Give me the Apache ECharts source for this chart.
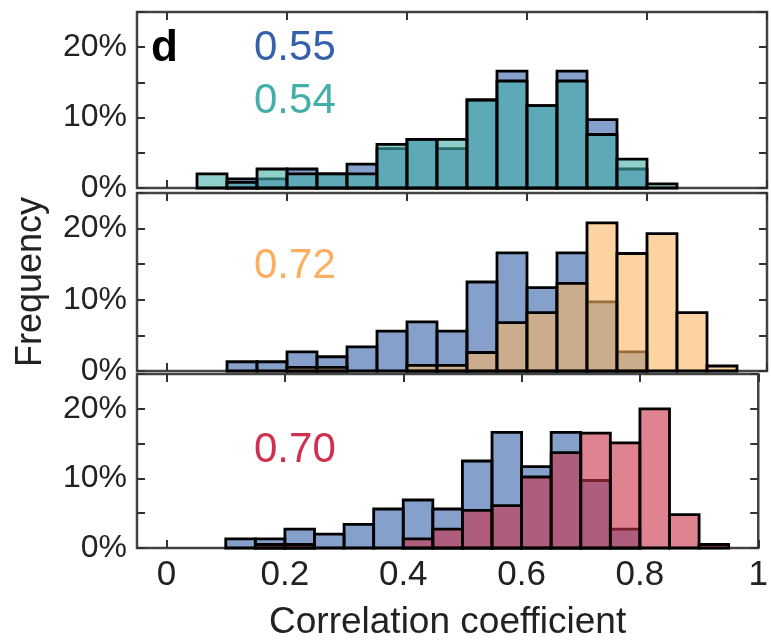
<!DOCTYPE html>
<html>
<head>
<meta charset="utf-8">
<script src="https://cdn.jsdelivr.net/npm/echarts@6/dist/echarts.min.js"></script>
<style>
  html, body { margin: 0; padding: 0; background: #fff; }
  #main { width: 771px; height: 642px; }
</style>
</head>
<body>
<div id="main"></div>
<script>
// bin left edges (width 0.05)
const binStarts = [0.05, 0.10, 0.15, 0.20, 0.25, 0.30, 0.35, 0.40, 0.45, 0.50, 0.55, 0.60, 0.65, 0.70, 0.75, 0.80, 0.85, 0.90];
const binWidth = 0.05;

// frequency in %
const blueVals   = [0, 1.3, 1.3, 2.7, 2.0, 3.4, 5.6, 6.9, 5.6, 12.5, 16.6, 11.7, 16.6, 9.7, 2.7, 0, 0, 0];
const tealVals   = [2.0, 0.8, 2.7, 2.0, 2.0, 2.0, 6.2, 6.9, 6.9, 12.5, 15.2, 11.7, 15.2, 7.6, 4.1, 0.6, 0, 0];
const orangeVals = [0, 0, 0, 0.5, 0.5, 0, 0, 0.8, 0.8, 2.6, 6.8, 8.2, 12.3, 20.8, 16.5, 19.3, 8.2, 0.7];
const redVals    = [0, 0, 0.5, 0.5, 0, 0, 0, 1.3, 2.7, 5.4, 6.1, 10.2, 13.7, 16.5, 15.1, 20.0, 4.8, 0.5];

const xTicks = [0, 0.2, 0.4, 0.6, 0.8, 1];
const labels = [
  {text: '0.55', color: 'rgb(53,97,170)', y: 50},
  {text: '0.54', color: 'rgb(67,175,168)', y: 103},
  {text: '0.72', color: 'rgb(250,176,96)', y: 268},
  {text: '0.70', color: 'rgb(208,48,78)', y: 452}
];

const FONT = '"Liberation Sans", Arial, sans-serif';
const grids = [
  {left: 137, width: 630, top: 12, height: 176},
  {left: 137, width: 630, top: 193, height: 178},
  {left: 137, width: 630, top: 374, height: 178}
];

function pairs(vals) {
  return binStarts.map((b, i) => [b, vals[i]]);
}

function renderItem(params, api) {
  const x0 = api.value(0), h = api.value(1);
  if (!h) return null;
  const p0 = api.coord([x0, h]);
  const p1 = api.coord([x0 + binWidth, 0]);
  return {
    type: 'rect',
    shape: {x: p0[0], y: p0[1], width: p1[0] - p0[0], height: p1[1] - p0[1]},
    style: {fill: api.visual('color'), stroke: '#000', lineWidth: 2.8}
  };
}

let xAxes = [], yAxes = [], series = [];
grids.forEach((g, gi) => {
  ['bottom', 'top'].forEach(pos => {
    xAxes.push({
      type: 'value', gridIndex: gi, position: pos, min: -0.05, max: 1,
      axisLine: {show: false, onZero: false},
      splitLine: {show: false},
      axisTick: {inside: true, length: 8, customValues: xTicks, lineStyle: {color: '#333', width: 2}},
      axisLabel: {
        show: gi === 2 && pos === 'bottom', customValues: xTicks, margin: 10,
        fontFamily: FONT, fontSize: 35, color: '#222',
        formatter: v => (v === 0 || v === 1) ? String(v) : v.toFixed(1)
      },
      name: (gi === 2 && pos === 'bottom') ? 'Correlation coefficient' : '',
      nameLocation: 'middle', nameGap: 56,
      nameTextStyle: {fontFamily: FONT, fontSize: 37, color: '#222'}
    });
  });
  ['left', 'right'].forEach(pos => {
    yAxes.push({
      type: 'value', gridIndex: gi, position: pos, min: 0, max: 25, interval: 5,
      axisLine: {show: false, onZero: false},
      splitLine: {show: false},
      axisTick: {inside: true, length: 8, lineStyle: {color: '#333', width: 2}},
      axisLabel: {
        show: pos === 'left', margin: 10, fontFamily: FONT, fontSize: 32, color: '#222',
        formatter: v => (v % 10 === 0) ? v + '%' : ''
      },
      name: (gi === 1 && pos === 'left') ? 'Frequency' : '',
      nameLocation: 'middle', nameGap: 88,
      nameTextStyle: {fontFamily: FONT, fontSize: 36, color: '#222'}
    });
  });
});

function addSeries(gi, vals, color) {
  series.push({
    type: 'custom', xAxisIndex: gi * 2, yAxisIndex: gi * 2,
    renderItem: renderItem, encode: {x: 0, y: 1},
    itemStyle: {color: color},
    data: pairs(vals)
  });
}
addSeries(0, blueVals, 'rgba(53,97,170,0.6)');
addSeries(0, tealVals, 'rgba(67,175,168,0.6)');
addSeries(1, blueVals, 'rgba(53,97,170,0.6)');
addSeries(1, orangeVals, 'rgba(250,182,98,0.6)');
addSeries(2, blueVals, 'rgba(53,97,170,0.6)');
addSeries(2, redVals, 'rgba(203,48,70,0.6)');

const graphics = [{
  type: 'text', left: 151, top: 27,
  style: {text: 'd', fontFamily: FONT, fontSize: 44, fontWeight: 'bold', fill: '#000'}
}].concat(labels.map(l => ({
  type: 'text', left: 254, top: l.y - 23,
  style: {text: l.text, fontFamily: FONT, fontSize: 42, fill: l.color}
})));

const myChart = echarts.init(document.getElementById('main'));
myChart.setOption({
  animation: false,
  grid: grids.map(g => Object.assign({show: true, borderColor: '#444', borderWidth: 2.5, containLabel: false}, g)),
  xAxis: xAxes,
  yAxis: yAxes,
  series: series,
  graphic: graphics
});
</script>
</body>
</html>
